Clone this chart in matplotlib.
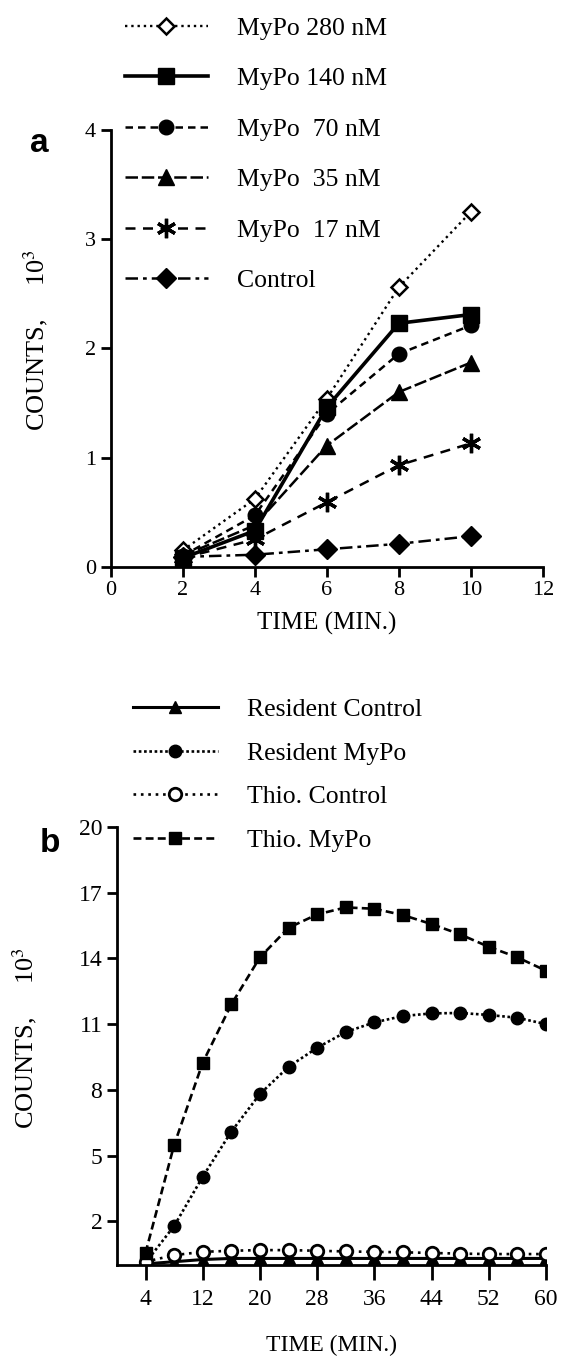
"""
Two-panel kinetics figure: counts vs time for MyPo doses (a) and cell types (b).
"""
import matplotlib
matplotlib.use("Agg")
import matplotlib.pyplot as plt

plt.rcParams["font.family"] = ["Liberation Serif", "DejaVu Serif"]
plt.rcParams["mathtext.fontset"] = "stix"

# panel a
TIME_A = [2, 4, 6, 8, 10]
MYPO_280 = [0.15, 0.62, 1.54, 2.56, 3.25]
MYPO_140 = [0.08, 0.33, 1.46, 2.23, 2.31]
MYPO_70 = [0.10, 0.47, 1.40, 1.95, 2.21]
MYPO_35 = [0.10, 0.38, 1.11, 1.60, 1.87]
MYPO_17 = [0.08, 0.25, 0.59, 0.93, 1.13]
CONTROL_A = [0.09, 0.11, 0.16, 0.21, 0.28]
LABELS_A = ["MyPo 280 nM", "MyPo 140 nM", "MyPo  70 nM", "MyPo  35 nM",
            "MyPo  17 nM", "Control"]

# panel b
TIME_B = [4, 8, 12, 16, 20, 24, 28, 32, 36, 40, 44, 48, 52, 56, 60]
RES_CONTROL = [0.05, 0.15, 0.25, 0.3, 0.3, 0.3, 0.3, 0.3, 0.3, 0.3, 0.3, 0.3, 0.3, 0.3, 0.3]
RES_MYPO = [0.1, 1.78, 4.03, 6.09, 7.81, 9.05, 9.92, 10.64, 11.08, 11.37, 11.49, 11.51,
            11.42, 11.29, 11.0]
THIO_CONTROL = [0.15, 0.45, 0.6, 0.65, 0.68, 0.68, 0.65, 0.62, 0.6, 0.58, 0.55, 0.52,
                0.5, 0.5, 0.5]
THIO_MYPO = [0.55, 5.48, 9.24, 11.9, 14.05, 15.4, 16.01, 16.33, 16.27, 15.98, 15.57,
             15.1, 14.53, 14.05, 13.44]
LABELS_B = ["Resident Control", "Resident MyPo", "Thio. Control", "Thio. MyPo"]

LEG = 18.5
TICK = 16
YLAB = 19
YLAB_TXT = r"COUNTS,     10$^3$"


def style_axes(ax):
    for s in ("top", "right"):
        ax.spines[s].set_visible(False)
    for s in ("left", "bottom"):
        ax.spines[s].set_linewidth(2.0)
    ax.tick_params(direction="out", width=2.0, length=7, labelsize=TICK)


fig = plt.figure(figsize=(5.62, 13.63), dpi=100)

# ---- panel a ----
ax1 = fig.add_axes([0.197, 0.5842, 0.769, 0.3204])
ax1.plot(TIME_A, MYPO_280, ls=":", marker="D", mfc="white", mew=1.8, ms=8.5,
         color="black", lw=1.7, label=LABELS_A[0])
ax1.plot(TIME_A, MYPO_140, ls="-", marker="s", lw=2.6, color="black", ms=11,
         label=LABELS_A[1])
ax1.plot(TIME_A, MYPO_70, ls=(0, (3, 2)), marker="o", color="black", lw=1.8, ms=10.5,
         label=LABELS_A[2])
ax1.plot(TIME_A, MYPO_35, ls=(0, (5, 1.5)), marker="^", color="black", lw=1.8, ms=12,
         label=LABELS_A[3])
ax1.plot(TIME_A, MYPO_17, ls=(0, (4, 3)), marker=(6, 2, 0), mew=2.4, color="black",
         lw=1.8, ms=14, label=LABELS_A[4])
ax1.plot(TIME_A, CONTROL_A, ls=(0, (5, 2, 1.5, 2)), marker="D", color="black", lw=1.8,
         ms=10, label=LABELS_A[5])
ax1.set_xlim(0, 12)
ax1.set_ylim(0, 4)
ax1.set_xticks(range(0, 13, 2))
ax1.set_yticks(range(0, 5))
style_axes(ax1)
ax1.set_xlabel("TIME (MIN.)", fontsize=18, labelpad=8)
ax1.legend(loc="upper left", bbox_to_anchor=(125 / 562, 1 - 17 / 1363),
           bbox_transform=fig.transFigure, frameon=False, fontsize=LEG,
           handlelength=3.23, handletextpad=1.13, labelspacing=1.07,
           borderpad=0, borderaxespad=0)
fig.text(30 / 562, 1 - 143 / 1363, "a", family="Liberation Sans", weight="bold",
         fontsize=24, ha="left", va="center")
fig.text(36 / 562, 1 - 340 / 1363, YLAB_TXT, rotation=90, fontsize=YLAB,
         ha="center", va="center")

# ---- panel b ----
ax2 = fig.add_axes([0.208, 0.0719, 0.7635, 0.3213])
ax2.plot(TIME_B, RES_CONTROL, ls="-", marker="^", color="black", lw=2.2, ms=8,
         label=LABELS_B[0])
ax2.plot(TIME_B, RES_MYPO, ls=(0, (1, 1)), marker="o", color="black", lw=1.9, ms=9,
         label=LABELS_B[1])
ax2.plot(TIME_B, THIO_CONTROL, ls=(0, (1, 1.8)), marker="o", mfc="white", mew=2.0,
         color="black", lw=1.9, ms=9, label=LABELS_B[2])
ax2.plot(TIME_B, THIO_MYPO, ls=(0, (3, 1.6)), marker="s", color="black", lw=1.9, ms=9,
         label=LABELS_B[3])
ax2.set_xlim(0, 60)
ax2.set_ylim(0, 20)
ax2.set_xticks(range(4, 61, 8))
ax2.set_yticks(range(2, 21, 3))
style_axes(ax2)
ax2.tick_params(labelsize=17)
ax2.tick_params(axis="x", length=11, pad=6)
ax2.set_xlabel("TIME (MIN.)", fontsize=17, labelpad=18)
ax2.legend(loc="upper left", bbox_to_anchor=(133 / 562, 1 - 698 / 1363),
           bbox_transform=fig.transFigure, frameon=False, fontsize=LEG,
           handlelength=3.3, handletextpad=1.13, labelspacing=0.8,
           borderpad=0, borderaxespad=0)
fig.text(40 / 562, 1 - 843 / 1363, "b", family="Liberation Sans", weight="bold",
         fontsize=24, ha="left", va="center")
fig.text(25 / 562, 1 - 1038 / 1363, YLAB_TXT, rotation=90, fontsize=YLAB,
         ha="center", va="center")

fig.savefig("out.png", dpi=100)
